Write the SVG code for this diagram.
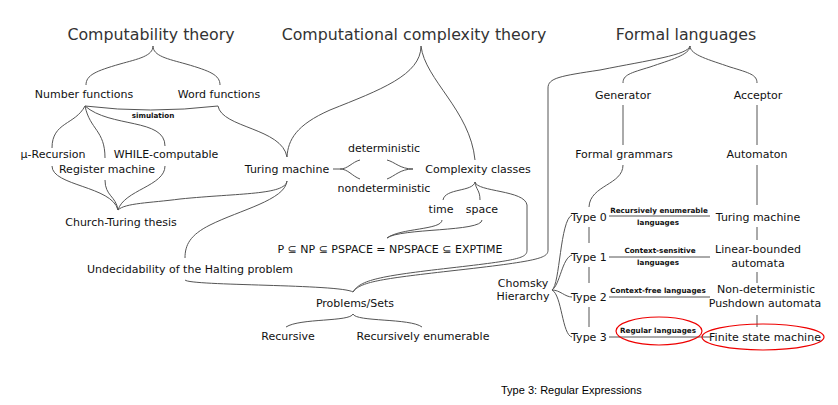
<svg xmlns="http://www.w3.org/2000/svg" width="838" height="405" viewBox="0 0 838 405">
<style>
text{font-family:"DejaVu Sans","Liberation Sans",sans-serif;fill:#111;text-anchor:middle}
.t{font-size:15.8px;fill:#333}
.n{font-size:11px}
.s{font-size:7.2px;font-weight:bold}
.cap{font-family:"Liberation Sans",Arial,sans-serif;font-size:11px;text-anchor:start;fill:#000}
#connectors path,#connectors line{fill:none;stroke:#555;stroke-width:1}
.red{fill:none;stroke:#e00;stroke-width:1.2}
</style>
<rect width="838" height="405" fill="#fff"/>
<g id="connectors">
<path d="M153,46 C153,56 138,59 120,64 C96,71 86,75 86,85"/>
<path d="M153,46 C153,56 168,59 186,64 C210,71 220,75 220,85"/>
<path d="M85,106 Q150,114 218,106"/>
<path d="M218,106 C222,128 282,128 287,157"/>
<path d="M421,46 C421,75 380,90 330,110 C296,125 288,140 287,157"/>
<path d="M421,46 C425,80 470,110 475,160"/>
<path d="M85,106 C75,125 52,122 52,148"/>
<path d="M85,106 C90,130 105,130 105,158"/>
<path d="M85,106 C110,128 165,118 165,146"/>
<path d="M52,166 C52,186 112,186 118,210"/>
<path d="M105,180 C105,196 116,196 118,210"/>
<path d="M165,166 C165,186 124,190 118,210"/>
<path d="M287,181 C285,195 240,193 180,199 C150,203 125,203 118,210"/>
<path d="M287,181 C285,200 240,210 210,225 C190,235 185,245 185,258"/>
<path d="M185,280 C190,286 340,284 353,292"/>
<path d="M333,169 L340,169 C348,169 352,162 360,160"/>
<path d="M340,169 C348,169 352,176 360,179"/>
<path d="M387,160 C395,162 400,169 413,169"/>
<path d="M387,179 C395,176 400,169 413,169"/>
<path d="M475,182 C473,192 445,188 443,200"/>
<path d="M475,182 C476,190 480,190 480,200"/>
<path d="M475,182 C477,192 525,190 527,205 L527,250 C527,258 520,260 450,268 C380,276 360,280 353,292"/>
<path d="M442,220 C442,230 400,228 387,238"/>
<path d="M482,220 C482,232 400,228 387,238"/>
<path d="M690,46 C690,55 710,60 730,67 C750,73 757,75 757,83"/>
<path d="M690,46 C690,55 670,60 650,67 C630,73 623,75 623,83"/>
<path d="M690,46 C688,55 650,60 600,70 C560,76 548,78 548,88 L548,250 C548,258 540,261 450,271 C380,279 360,282 353,292"/>
<line x1="623" y1="105" x2="623" y2="145" style="stroke:#aaa;stroke-width:2"/>
<line x1="757" y1="105" x2="757" y2="145"/>
<path d="M623,165 C623,185 590,185 589,207"/>
<line x1="589" y1="227" x2="589" y2="243"/>
<line x1="589" y1="267" x2="589" y2="283"/>
<line x1="589" y1="307" x2="589" y2="327"/>
<line x1="757" y1="165" x2="757" y2="205"/>
<line x1="757" y1="227" x2="757" y2="240"/>
<line x1="757" y1="272" x2="757" y2="283"/>
<line x1="757" y1="315" x2="757" y2="327"/>
<path d="M552,290 C560,285 560,220 572,215"/>
<path d="M552,290 C560,285 562,258 572,255"/>
<path d="M552,290 C560,290 565,297 572,297"/>
<path d="M552,290 C562,295 562,335 572,337"/>
<line x1="609" y1="216" x2="710" y2="216"/>
<line x1="609" y1="257" x2="710" y2="257"/>
<line x1="609" y1="297" x2="710" y2="297"/>
<line x1="609" y1="337" x2="710" y2="337"/>
<path d="M353,314 C350,322 300,318 286,327"/>
<path d="M353,314 C356,322 410,318 422,327"/>
</g>
<g id="computability-theory"><text class="t" x="151" y="40">Computability theory</text></g>
<g id="complexity-theory"><text class="t" x="414" y="40">Computational complexity theory</text></g>
<g id="formal-languages"><text class="t" x="686" y="40">Formal languages</text></g>
<g id="number-functions"><text class="n" x="84" y="98">Number functions</text></g>
<g id="word-functions"><text class="n" x="219" y="98">Word functions</text></g>
<g id="simulation"><text class="s" x="153" y="118">simulation</text></g>
<g id="mu-recursion"><text class="n" x="53" y="158">μ-Recursion</text></g>
<g id="while-computable"><text class="n" x="166" y="158">WHILE-computable</text></g>
<g id="register-machine"><text class="n" x="107" y="173">Register machine</text></g>
<g id="church-turing"><text class="n" x="121" y="226">Church-Turing thesis</text></g>
<g id="turing-machine"><text class="n" x="287" y="173">Turing machine</text></g>
<g id="deterministic"><text class="n" x="384" y="152">deterministic</text></g>
<g id="nondeterministic"><text class="n" x="384" y="192">nondeterministic</text></g>
<g id="complexity-classes"><text class="n" x="478" y="173">Complexity classes</text></g>
<g id="time"><text class="n" x="441" y="213">time</text></g>
<g id="space"><text class="n" x="482" y="213">space</text></g>
<g id="class-chain"><text class="n" x="390" y="253">P ⊆ NP ⊆ PSPACE = NPSPACE ⊆ EXPTIME</text></g>
<g id="undecidability"><text class="n" x="190" y="273">Undecidability of the Halting problem</text></g>
<g id="problems-sets"><text class="n" x="355" y="307">Problems/Sets</text></g>
<g id="recursive"><text class="n" x="288" y="340">Recursive</text></g>
<g id="recursively-enumerable"><text class="n" x="423" y="340">Recursively enumerable</text></g>
<g id="generator"><text class="n" x="623" y="99">Generator</text></g>
<g id="acceptor"><text class="n" x="758" y="99">Acceptor</text></g>
<g id="formal-grammars"><text class="n" x="624" y="158">Formal grammars</text></g>
<g id="automaton"><text class="n" x="757" y="158">Automaton</text></g>
<g id="chomsky"><text class="n" x="523" y="287">Chomsky</text><text class="n" x="523" y="300">Hierarchy</text></g>
<g id="type0"><text class="n" x="589" y="221">Type 0</text></g>
<g id="type1"><text class="n" x="589" y="261">Type 1</text></g>
<g id="type2"><text class="n" x="589" y="301">Type 2</text></g>
<g id="type3"><text class="n" x="589" y="341">Type 3</text></g>
<g id="re-languages"><text class="s" x="659" y="213">Recursively enumerable</text><text class="s" x="658" y="225">languages</text></g>
<g id="cs-languages"><text class="s" x="660" y="253">Context-sensitive</text><text class="s" x="658" y="265">languages</text></g>
<g id="cf-languages"><text class="s" x="658" y="293">Context-free languages</text></g>
<g id="regular-languages"><ellipse class="red" cx="659" cy="331" rx="43" ry="14"/><text class="s" x="658" y="333">Regular languages</text></g>
<g id="turing-machine-2"><text class="n" x="758" y="221">Turing machine</text></g>
<g id="lba"><text class="n" x="758" y="253">Linear-bounded</text><text class="n" x="758" y="267">automata</text></g>
<g id="pda"><text class="n" x="766" y="293">Non-deterministic</text><text class="n" x="765" y="307">Pushdown automata</text></g>
<g id="fsm"><ellipse class="red" cx="763" cy="337" rx="61" ry="13"/><text class="n" x="765" y="341">Finite state machine</text></g>
<g id="caption"><text class="cap" x="501" y="394">Type 3: Regular Expressions</text></g>
</svg>
